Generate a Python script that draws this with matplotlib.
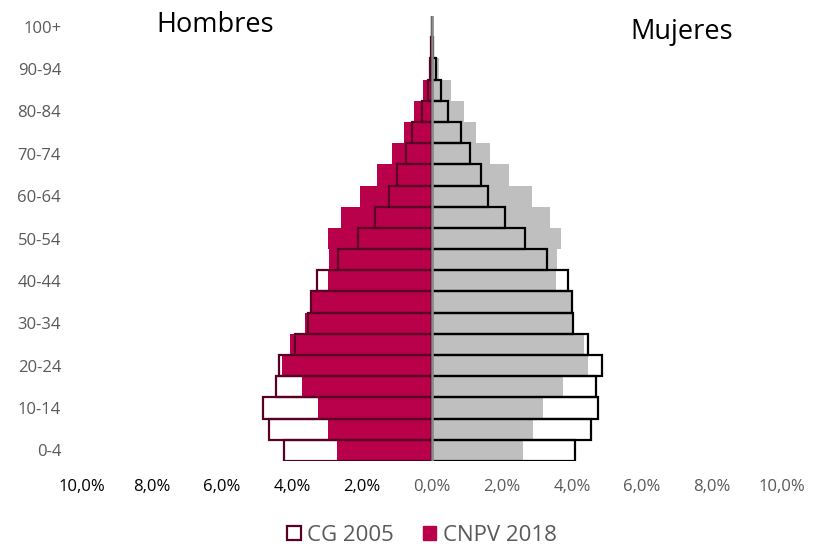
import matplotlib
matplotlib.use("Agg")
import matplotlib.pyplot as plt
from matplotlib.patches import Patch
import numpy as np

plt.rcParams['font.family'] = ['Open Sans', 'DejaVu Sans']

age_groups = ["0-4", "5-9", "10-14", "15-19", "20-24", "25-29", "30-34", "35-39",
              "40-44", "45-49", "50-54", "55-59", "60-64", "65-69", "70-74",
              "75-79", "80-84", "85-89", "90-94", "95-99", "100+"]

men_2018 = [2.71, 2.98, 3.25, 3.72, 4.30, 4.06, 3.64, 3.42, 2.98, 2.93, 2.97,
            2.61, 2.06, 1.56, 1.13, 0.80, 0.51, 0.27, 0.08, 0.03, 0.01]
men_2005 = [4.23, 4.66, 4.82, 4.46, 4.37, 3.91, 3.53, 3.46, 3.30, 2.68, 2.12,
            1.63, 1.23, 1.01, 0.74, 0.56, 0.29, 0.12, 0.05, 0.02, 0.01]
women_2018 = [2.61, 2.88, 3.18, 3.73, 4.47, 4.35, 3.99, 3.96, 3.54, 3.56, 3.69,
              3.36, 2.86, 2.19, 1.65, 1.25, 0.90, 0.54, 0.20, 0.06, 0.01]
women_2005 = [4.08, 4.55, 4.74, 4.69, 4.86, 4.47, 4.03, 4.01, 3.89, 3.29, 2.67,
              2.09, 1.60, 1.40, 1.08, 0.82, 0.47, 0.25, 0.11, 0.04, 0.01]

x_ticks = [-10, -8, -6, -4, -2, 0, 2, 4, 6, 8, 10]
x_tick_labels = ["10,0%", "8,0%", "6,0%", "4,0%", "2,0%", "0,0%",
                 "2,0%", "4,0%", "6,0%", "8,0%", "10,0%"]

crimson = "#B9004A"
gray = "#BFBFBF"
maroon = "#5A0027"
txt_gray = "#595959"

fig = plt.figure(figsize=(8.13, 5.52), dpi=100)
ax = fig.add_axes([0.1009, 0.1649, 0.861, 0.806])

y = np.arange(len(age_groups))
ax.barh(y, -np.array(men_2018), height=1.0, color=crimson, zorder=2)
ax.barh(y, women_2018, height=1.0, color=gray, zorder=2)
ax.barh(y, -np.array(men_2005), height=1.0, facecolor="none", edgecolor=maroon,
        linewidth=1.6, zorder=3)
ax.barh(y, women_2005, height=1.0, facecolor="none", edgecolor="black",
        linewidth=1.6, zorder=3)

ax.axvline(0, color="#8C8C8C", linewidth=1.8, zorder=4)

ax.set_xlim(-10, 10)
ax.set_ylim(-0.5, len(age_groups) - 0.5)
for s in ax.spines.values():
    s.set_visible(False)

ax.set_xticks(x_ticks)
ax.set_xticklabels(x_tick_labels, fontsize=12)
for lbl, v in zip(ax.get_xticklabels(), x_ticks):
    lbl.set_color("black" if v < 0 else txt_gray)
ax.tick_params(axis="x", length=0, pad=13)

ax.set_yticks(y[::2])
ax.set_yticklabels(age_groups[::2], fontsize=12, color=txt_gray)
ax.tick_params(axis="y", length=0, pad=15)

fig.text(0.265, 0.955, "Hombres", fontsize=19.5, ha="center", va="center", color="black")
fig.text(0.838, 0.942, "Mujeres", fontsize=19.5, ha="center", va="center", color="black")

handles = [Patch(facecolor="white", edgecolor=maroon, linewidth=1.6, label="CG 2005"),
           Patch(facecolor=crimson, edgecolor=crimson, label="CNPV 2018")]
leg = fig.legend(handles=handles, loc="center", bbox_to_anchor=(0.519, 0.03),
                 ncol=2, frameon=False, fontsize=16, handlelength=0.6,
                 handleheight=0.6, handletextpad=0.3, columnspacing=1.3,
                 borderpad=0.1)
for t in leg.get_texts():
    t.set_color(txt_gray)

fig.savefig("out.png", dpi=100)
